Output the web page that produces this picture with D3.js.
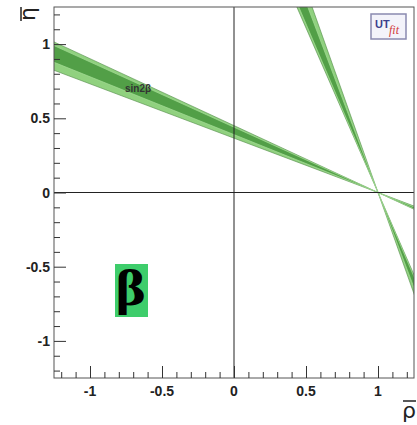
<!DOCTYPE html>
<html>
<head>
<meta charset="utf-8">
<script src="https://cdn.jsdelivr.net/npm/d3@7/dist/d3.min.js"></script>
<style>
body{margin:0;background:#fff;}
svg{display:block;}
</style>
</head>
<body>
<div id="chart"></div>
<script>
// assi
var rhoDomain = [-1.25, 1.25];
var etaDomain = [-1.25, 1.25];
var rhoTicks = [-1, -0.5, 0, 0.5, 1];
var etaTicks = [-1, -0.5, 0, 0.5, 1];
var tickLabels = ["-1", "-0.5", "0", "0.5", "1"];

// vincolo sin2beta: pendenze tan(beta) delle rette che passano per (1,0)
var apex = [1, 0];
var bandOuter = [0.366, 0.451];   // 95%
var bandInner = [0.390, 0.440];   // 68%

var width = 417, height = 425;
var x = d3.scaleLinear().domain(rhoDomain).range([54, 414]);
var y = d3.scaleLinear().domain(etaDomain).range([378, 7]);

var svg = d3.select('#chart').append('svg')
  .attr('width', width).attr('height', height);

svg.append('clipPath').attr('id', 'clip')
  .append('rect')
  .attr('x', x(rhoDomain[0])).attr('y', y(etaDomain[1]))
  .attr('width', x(rhoDomain[1]) - x(rhoDomain[0]))
  .attr('height', y(etaDomain[0]) - y(etaDomain[1]));

var plot = svg.append('g').attr('clip-path', 'url(#clip)');

var line = d3.line().x(function(d){ return x(d[0]); }).y(function(d){ return y(d[1]); });

// regione tra due rette per l'apice (a farfalla)
function bowtie(t1, t2) {
  var far = 4;
  return [
    [apex[0] - far, apex[1] + t1 * far],
    [apex[0] - far, apex[1] + t2 * far],
    apex,
    [apex[0] + far, apex[1] - t2 * far],
    [apex[0] + far, apex[1] - t1 * far],
    apex
  ];
}

// due soluzioni: beta e pi/2 - beta
var solutions = [
  {outer: bandOuter, inner: bandInner},
  {outer: [1 / bandOuter[1], 1 / bandOuter[0]], inner: [1 / bandInner[1], 1 / bandInner[0]]}
];

solutions.forEach(function(s) {
  plot.append('path')
    .attr('d', line(bowtie(s.outer[0], s.outer[1])) + 'Z')
    .attr('fill', '#90d17f')
    .attr('stroke', '#4f8a45')
    .attr('stroke-width', 0.6);
  plot.append('path')
    .attr('d', line(bowtie(s.inner[0], s.inner[1])) + 'Z')
    .attr('fill', '#529f47')
    .attr('stroke', '#a6dc98')
    .attr('stroke-width', 0.7);
});

// linee dello zero
plot.append('line')
  .attr('x1', x(0)).attr('x2', x(0))
  .attr('y1', y(etaDomain[0])).attr('y2', y(etaDomain[1]))
  .attr('stroke', '#222').attr('stroke-width', 1);
plot.append('line')
  .attr('x1', x(rhoDomain[0])).attr('x2', x(rhoDomain[1]))
  .attr('y1', y(0)).attr('y2', y(0))
  .attr('stroke', '#222').attr('stroke-width', 1);

// cornice
svg.append('rect')
  .attr('x', x(rhoDomain[0])).attr('y', y(etaDomain[1]))
  .attr('width', x(rhoDomain[1]) - x(rhoDomain[0]))
  .attr('height', y(etaDomain[0]) - y(etaDomain[1]))
  .attr('fill', 'none').attr('stroke', '#555').attr('stroke-width', 1);

// tacche (verso l'interno)
var minor = d3.range(-12, 13).map(function(i){ return i / 10; });
var xAxis = d3.axisTop(x).tickValues(minor).tickSizeInner(6).tickSizeOuter(0).tickFormat('');
var gx = svg.append('g').attr('transform', 'translate(0,' + y(etaDomain[0]) + ')').call(xAxis);
gx.select('.domain').remove();
gx.selectAll('.tick line').attr('stroke', '#333')
  .attr('y2', function(d){ return Math.abs(d * 2 - Math.round(d * 2)) < 1e-6 ? -12 : -6; });

var yAxis = d3.axisRight(y).tickValues(minor).tickSizeInner(6).tickSizeOuter(0).tickFormat('');
var gy = svg.append('g').attr('transform', 'translate(' + x(rhoDomain[0]) + ',0)').call(yAxis);
gy.select('.domain').remove();
gy.selectAll('.tick line').attr('stroke', '#333')
  .attr('x2', function(d){ return Math.abs(d * 2 - Math.round(d * 2)) < 1e-6 ? 12 : 6; });

// etichette
var font = 'Liberation Sans, Arial, sans-serif';
svg.append('g').selectAll('text').data(rhoTicks).enter().append('text')
  .attr('x', function(d){ return x(d); }).attr('y', 396)
  .attr('text-anchor', 'middle')
  .attr('font-family', font).attr('font-weight', 'bold').attr('font-size', 14)
  .attr('fill', '#222')
  .text(function(d, i){ return tickLabels[i]; });

svg.append('g').selectAll('text').data(etaTicks).enter().append('text')
  .attr('x', 50).attr('y', function(d){ return y(d) + 5; })
  .attr('text-anchor', 'end')
  .attr('font-family', font).attr('font-weight', 'bold').attr('font-size', 14)
  .attr('fill', '#222')
  .text(function(d, i){ return tickLabels[i]; });

// titoli assi
var rl = svg.append('g').attr('transform', 'translate(409,418)');
rl.append('text').attr('text-anchor', 'middle')
  .attr('font-family', 'DejaVu Sans, sans-serif').attr('font-size', 22).attr('fill', '#222')
  .text('ρ');
rl.append('line').attr('x1', -6).attr('x2', 7).attr('y1', -17).attr('y2', -17)
  .attr('stroke', '#222').attr('stroke-width', 1.5);

var el = svg.append('g').attr('transform', 'translate(35,14) rotate(-90)');
el.append('text').attr('text-anchor', 'middle')
  .attr('font-family', 'DejaVu Sans, sans-serif').attr('font-size', 22).attr('fill', '#222')
  .text('η');
el.append('line').attr('x1', -7).attr('x2', 7).attr('y1', -14).attr('y2', -14)
  .attr('stroke', '#222').attr('stroke-width', 1.5);

// etichetta della banda
svg.append('text').attr('x', 125).attr('y', 92)
  .attr('font-family', font).attr('font-weight', 'bold').attr('font-size', 10)
  .attr('fill', '#333').text('sin2β');

// beta
svg.append('rect').attr('x', 115).attr('y', 264).attr('width', 33).attr('height', 53)
  .attr('fill', '#3ecd6b');
svg.append('text').attr('x', 131).attr('y', 305).attr('text-anchor', 'middle')
  .attr('font-family', 'DejaVu Serif, serif').attr('font-weight', 'bold').attr('font-size', 46)
  .attr('fill', '#000').text('β');

// logo UTfit
var logo = svg.append('g').attr('transform', 'translate(371,14)');
logo.append('rect').attr('width', 35).attr('height', 25)
  .attr('fill', '#f3f3fa').attr('stroke', '#8a8ab0').attr('stroke-width', 1.5);
logo.append('text').attr('x', 4).attr('y', 14)
  .attr('font-family', font).attr('font-weight', 'bold').attr('font-size', 11)
  .attr('fill', '#3b3f8c').text('UT');
logo.append('text').attr('x', 18).attr('y', 20)
  .attr('font-family', 'Liberation Serif, serif').attr('font-style', 'italic').attr('font-size', 12)
  .attr('fill', '#d23a3a').text('fit');
</script>
</body>
</html>
